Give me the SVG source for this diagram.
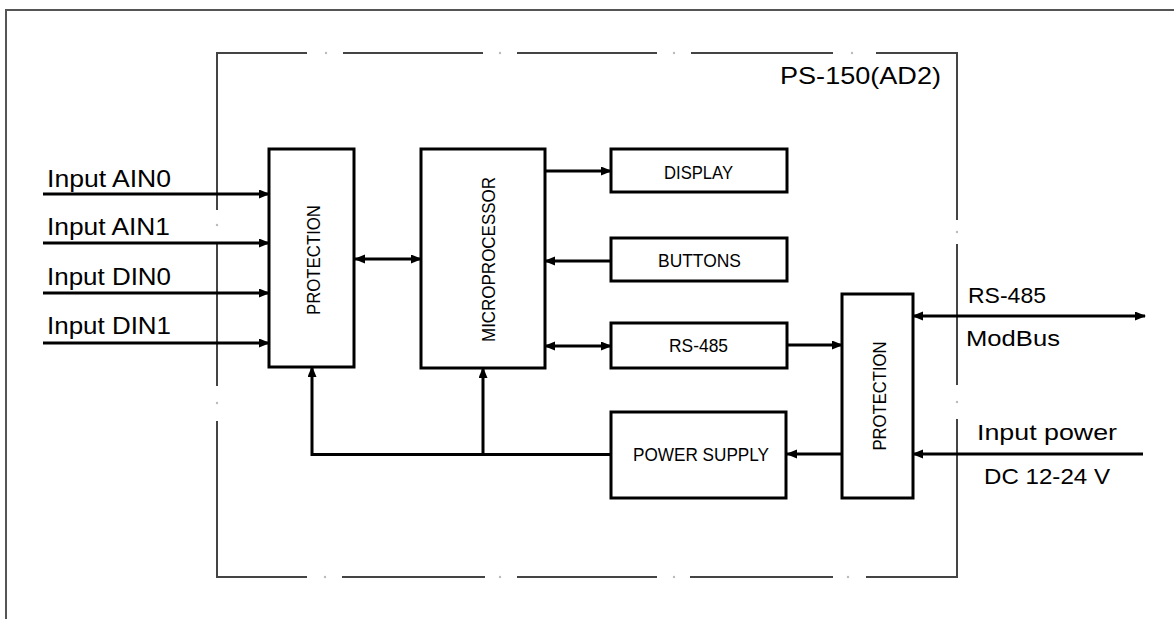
<svg xmlns="http://www.w3.org/2000/svg" width="1174" height="619" viewBox="0 0 1174 619">
<style>
  .frame{fill:none;stroke:#555;stroke-width:2}
  .dash{fill:none;stroke:#444;stroke-width:2}
  .dot{fill:#bbb}
  .box{fill:#fff;stroke:#000;stroke-width:3}
  .ln{fill:none;stroke:#000;stroke-width:3}
  .t{font-family:"Liberation Sans",Arial,sans-serif;fill:#000}
  .lbl{font-size:24px}
  .ext{font-size:22px}
  .in{font-size:18px}
</style>
<defs>
  <marker id="ah" markerUnits="userSpaceOnUse" markerWidth="12" markerHeight="10" refX="10" refY="4.5" orient="auto-start-reverse">
    <path d="M0,0 L11,4.5 L0,9 z" fill="#000"/>
  </marker>
</defs>
<rect width="1174" height="619" fill="#fff"/>
<g id="frame">
  <path class="frame" d="M6,619 V10 H1174"/>
</g>
<g id="enclosure">
  <path class="dash" d="M217,210 V53 H307 M343,53 H483 M517,53 H657 M691,53 H833 M876,53 H957 V220 M957,244 V385 M957,419 V577 H866 M833,577 H690 M657,577 H517 M485,577 H342 M307,577 H217 V421 M217,386 V242"/>
  <circle class="dot" cx="326" cy="53" r="1.2"/><circle class="dot" cx="500" cy="53" r="1.2"/><circle class="dot" cx="674" cy="53" r="1.2"/><circle class="dot" cx="852" cy="53" r="1.2"/>
  <circle class="dot" cx="325" cy="577" r="1.2"/><circle class="dot" cx="500" cy="577" r="1.2"/><circle class="dot" cx="674" cy="577" r="1.2"/><circle class="dot" cx="848" cy="577" r="1.2"/>
  <circle class="dot" cx="217" cy="225" r="1.2"/><circle class="dot" cx="217" cy="403" r="1.2"/>
  <circle class="dot" cx="957" cy="232" r="1.2"/><circle class="dot" cx="957" cy="402" r="1.2"/>
  <text class="t lbl" x="780" y="84" textLength="161" lengthAdjust="spacingAndGlyphs">PS-150(AD2)</text>
</g>
<g id="connectors">
  <line class="ln" x1="43" y1="194" x2="269" y2="194" marker-end="url(#ah)"/>
  <line class="ln" x1="43" y1="243" x2="269" y2="243" marker-end="url(#ah)"/>
  <line class="ln" x1="43" y1="293" x2="269" y2="293" marker-end="url(#ah)"/>
  <line class="ln" x1="43" y1="343" x2="269" y2="343" marker-end="url(#ah)"/>
  <line class="ln" x1="355" y1="259" x2="421" y2="259" marker-start="url(#ah)" marker-end="url(#ah)"/>
  <line class="ln" x1="545" y1="171" x2="611" y2="171" marker-end="url(#ah)"/>
  <line class="ln" x1="611" y1="261" x2="545" y2="261" marker-end="url(#ah)"/>
  <line class="ln" x1="545" y1="346" x2="611" y2="346" marker-start="url(#ah)" marker-end="url(#ah)"/>
  <line class="ln" x1="787" y1="345" x2="842" y2="345" marker-end="url(#ah)"/>
  <line class="ln" x1="913" y1="316" x2="1145" y2="316" marker-start="url(#ah)" marker-end="url(#ah)"/>
  <line class="ln" x1="1143" y1="454" x2="913" y2="454" marker-end="url(#ah)"/>
  <line class="ln" x1="842" y1="454" x2="787" y2="454" marker-end="url(#ah)"/>
  <path class="ln" d="M611,454.5 H312 V367" marker-end="url(#ah)"/>
  <line class="ln" x1="483" y1="454.5" x2="483" y2="368" marker-end="url(#ah)"/>
</g>
<g id="labels">
  <text class="t lbl" x="47" y="187" textLength="124" lengthAdjust="spacingAndGlyphs">Input AIN0</text>
  <text class="t lbl" x="47" y="235" textLength="123" lengthAdjust="spacingAndGlyphs">Input AIN1</text>
  <text class="t lbl" x="47" y="285" textLength="124" lengthAdjust="spacingAndGlyphs">Input DIN0</text>
  <text class="t lbl" x="47" y="334" textLength="124" lengthAdjust="spacingAndGlyphs">Input DIN1</text>
  <text class="t ext" x="968" y="303" textLength="78" lengthAdjust="spacingAndGlyphs">RS-485</text>
  <text class="t ext" x="966" y="346" textLength="94" lengthAdjust="spacingAndGlyphs">ModBus</text>
  <text class="t ext" x="977" y="440" textLength="140" lengthAdjust="spacingAndGlyphs">Input power</text>
  <text class="t ext" x="984" y="484" textLength="126" lengthAdjust="spacingAndGlyphs">DC 12-24 V</text>
</g>
<g id="protection-in">
  <rect class="box" x="269" y="149" width="85" height="218"/>
  <text class="t in" x="320" y="260" text-anchor="middle" transform="rotate(-90 320 260)" textLength="110" lengthAdjust="spacingAndGlyphs">PROTECTION</text>
</g>
<g id="microprocessor">
  <rect class="box" x="421" y="149" width="124" height="219"/>
  <text class="t in" x="495" y="259.5" text-anchor="middle" transform="rotate(-90 495 259.5)" textLength="165" lengthAdjust="spacingAndGlyphs">MICROPROCESSOR</text>
</g>
<g id="display">
  <rect class="box" x="611" y="149" width="176" height="43"/>
  <text class="t in" x="664" y="179" textLength="69" lengthAdjust="spacingAndGlyphs">DISPLAY</text>
</g>
<g id="buttons">
  <rect class="box" x="611" y="238" width="176" height="43"/>
  <text class="t in" x="658" y="267" textLength="83" lengthAdjust="spacingAndGlyphs">BUTTONS</text>
</g>
<g id="rs485">
  <rect class="box" x="611" y="323" width="176" height="45"/>
  <text class="t in" x="669" y="352" textLength="59" lengthAdjust="spacingAndGlyphs">RS-485</text>
</g>
<g id="power-supply">
  <rect class="box" x="611" y="412" width="175" height="86"/>
  <text class="t in" x="633" y="461" textLength="136" lengthAdjust="spacingAndGlyphs">POWER SUPPLY</text>
</g>
<g id="protection-out">
  <rect class="box" x="842" y="294" width="71" height="204"/>
  <text class="t in" x="886" y="396" text-anchor="middle" transform="rotate(-90 886 396)" textLength="109" lengthAdjust="spacingAndGlyphs">PROTECTION</text>
</g>
</svg>
